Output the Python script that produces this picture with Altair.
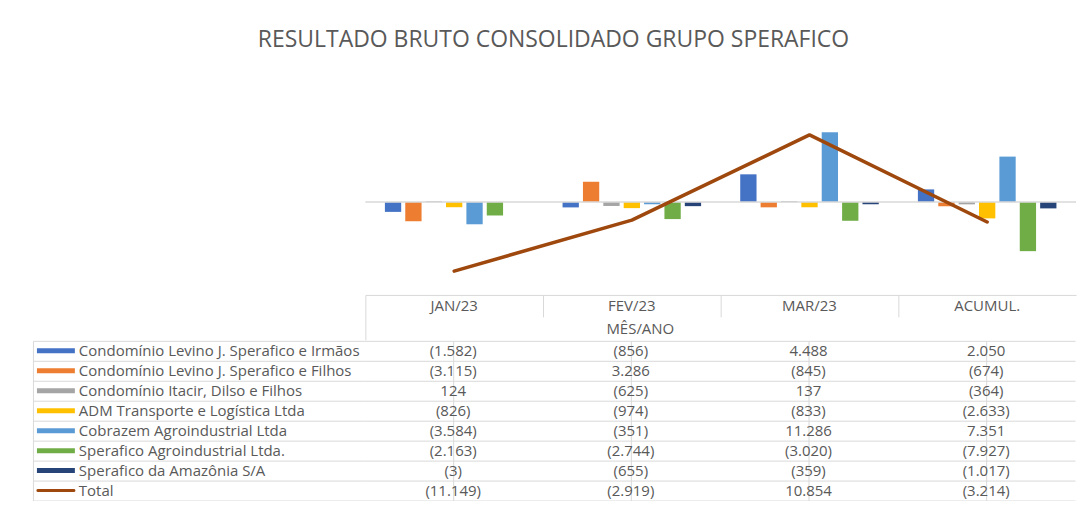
import altair as alt
import pandas as pd

title_text = "RESULTADO BRUTO CONSOLIDADO GRUPO SPERAFICO"
axis_title = "MÊS/ANO"
months = ["JAN/23", "FEV/23", "MAR/23", "ACUMUL."]
series = [
    "Condomínio Levino J. Sperafico e Irmãos",
    "Condomínio Levino J. Sperafico e Filhos",
    "Condomínio Itacir, Dilso e Filhos",
    "ADM Transporte e Logística Ltda",
    "Cobrazem Agroindustrial Ltda",
    "Sperafico Agroindustrial Ltda.",
    "Sperafico da Amazônia S/A",
]
total_name = "Total"
colors = ["#4472C4", "#ED7D31", "#A5A5A5", "#FFC000", "#5B9BD5", "#70AD47", "#264478"]
total_color = "#9E480E"

v_irmaos = [-1582, -856, 4488, 2050]
v_filhos = [-3115, 3286, -845, -674]
v_itacir = [124, -625, 137, -364]
v_adm = [-826, -974, -833, -2633]
v_cobrazem = [-3584, -351, 11286, 7351]
v_agro = [-2163, -2744, -3020, -7927]
v_amazonia = [-3, -655, -359, -1017]
totals = [-11149, -2919, 10854, -3214]

series_values = [v_irmaos, v_filhos, v_itacir, v_adm, v_cobrazem, v_agro, v_amazonia]


def fmt(v):
    s = f"{abs(v):,}".replace(",", ".")
    return f"({s})" if v < 0 else s


rows = []
for name, vals in zip(series, series_values):
    for m, v in zip(months, vals):
        rows.append({"series": name, "month": m, "value": v, "label": fmt(v)})
bars_df = pd.DataFrame(rows)
total_df = pd.DataFrame({
    "series": [total_name] * len(months),
    "month": months,
    "value": totals,
    "label": [fmt(v) for v in totals],
})
table_df = pd.concat([bars_df, total_df], ignore_index=True)
row_order = series + [total_name]

FONT = "Open Sans"
TXT = "#595959"
GRID = "#D9D9D9"
FS = 15
COL_W = 178
PLOT_H = 186
ROW_H = 20
LABEL_W = 332

color_scale = alt.Scale(domain=series, range=colors)
first_col = f"datum.value === '{months[0]}'"

x_top = alt.X(
    "month:N", sort=months,
    scale=alt.Scale(domain=months, paddingInner=0, paddingOuter=0),
    axis=alt.Axis(
        title=axis_title, titleFont=FONT, titleFontSize=FS, titleColor=TXT,
        titleFontWeight="normal", titleX=275, titleY=34, titleBaseline="middle",
        titleAlign="center",
        labelAngle=0, labelFont=FONT, labelFontSize=FS, labelColor=TXT,
        labelBaseline="middle",
        labelPadding={"condition": {"test": first_col, "value": -34}, "value": -11},
        domainColor=GRID, tickColor=GRID, bandPosition=0,
        tickSize={"condition": {"test": first_col, "value": 45}, "value": 22},
        grid=False,
    ),
)
y_val = alt.Y("value:Q", scale=alt.Scale(domain=[-15000, 15000], nice=False), axis=None)

bars = alt.Chart(bars_df).mark_bar().encode(
    x=x_top,
    xOffset=alt.XOffset("series:N", sort=series,
                        scale=alt.Scale(domain=series, paddingInner=0.2, paddingOuter=0.96)),
    y=y_val,
    color=alt.Color("series:N", scale=color_scale, legend=None),
)
zero = alt.Chart(pd.DataFrame({"value": [0]})).mark_rule(color=GRID, strokeWidth=1.5).encode(y=y_val)
line = alt.Chart(total_df).mark_line(
    color=total_color, strokeWidth=3.5, strokeCap="round", strokeJoin="round"
).encode(x=x_top, y=y_val)
top_chart = alt.layer(bars, zero, line).properties(width=4 * COL_W, height=PLOT_H)

spacer = alt.Chart(pd.DataFrame({"s": [0]})).mark_point(opacity=0).encode(
    x=alt.value(0), y=alt.value(0)
).properties(width=LABEL_W, height=PLOT_H)

y_rows_left = alt.Y(
    "series:N", sort=row_order,
    scale=alt.Scale(domain=row_order, paddingInner=0, paddingOuter=0),
    axis=alt.Axis(title=None, labels=False, ticks=False, domain=True, domainColor=GRID,
                  grid=True, gridColor=GRID, tickBand="extent"),
)
swatch = alt.Chart(pd.DataFrame({"series": series})).mark_rule(strokeWidth=5).encode(
    x=alt.value(4), x2=alt.value(42), y=y_rows_left,
    color=alt.Color("series:N", scale=color_scale, legend=None),
)
swatch_total = alt.Chart(pd.DataFrame({"series": [total_name]})).mark_rule(
    strokeWidth=3, color=total_color, strokeCap="round"
).encode(x=alt.value(5), x2=alt.value(41), y=y_rows_left)
names = alt.Chart(pd.DataFrame({"series": row_order})).mark_text(
    align="left", font=FONT, fontSize=FS, color=TXT
).encode(x=alt.value(46), y=y_rows_left, text="series:N")
labels_chart = alt.layer(swatch, swatch_total, names).properties(width=LABEL_W, height=8 * ROW_H)

x_tab = alt.X(
    "month:N", sort=months,
    scale=alt.Scale(domain=months, paddingInner=0, paddingOuter=0),
    axis=alt.Axis(title=None, labels=False, ticks=False, domain=False, grid=True,
                  gridColor=GRID, bandPosition=0),
)
y_tab = alt.Y(
    "series:N", sort=row_order,
    scale=alt.Scale(domain=row_order, paddingInner=0, paddingOuter=0),
    axis=alt.Axis(title=None, labels=False, ticks=False, domain=False, grid=True,
                  gridColor=GRID, tickBand="extent"),
)
values_chart = alt.Chart(table_df).mark_text(font=FONT, fontSize=FS, color=TXT).encode(
    x=x_tab, y=y_tab, text="label:N"
).properties(width=4 * COL_W, height=8 * ROW_H)

chart = alt.vconcat(
    alt.hconcat(spacer, top_chart, spacing=0),
    alt.hconcat(labels_chart, values_chart, spacing=0),
    spacing=0,
).properties(
    title=alt.TitleParams(title_text, anchor="middle", fontSize=23, font=FONT, color=TXT,
                          fontWeight="normal", offset=55),
    padding={"left": 22, "top": 20, "right": 0, "bottom": 0},
).configure_view(stroke=None)

chart.save("out.html", embed_options={"renderer": "svg", "actions": False})
